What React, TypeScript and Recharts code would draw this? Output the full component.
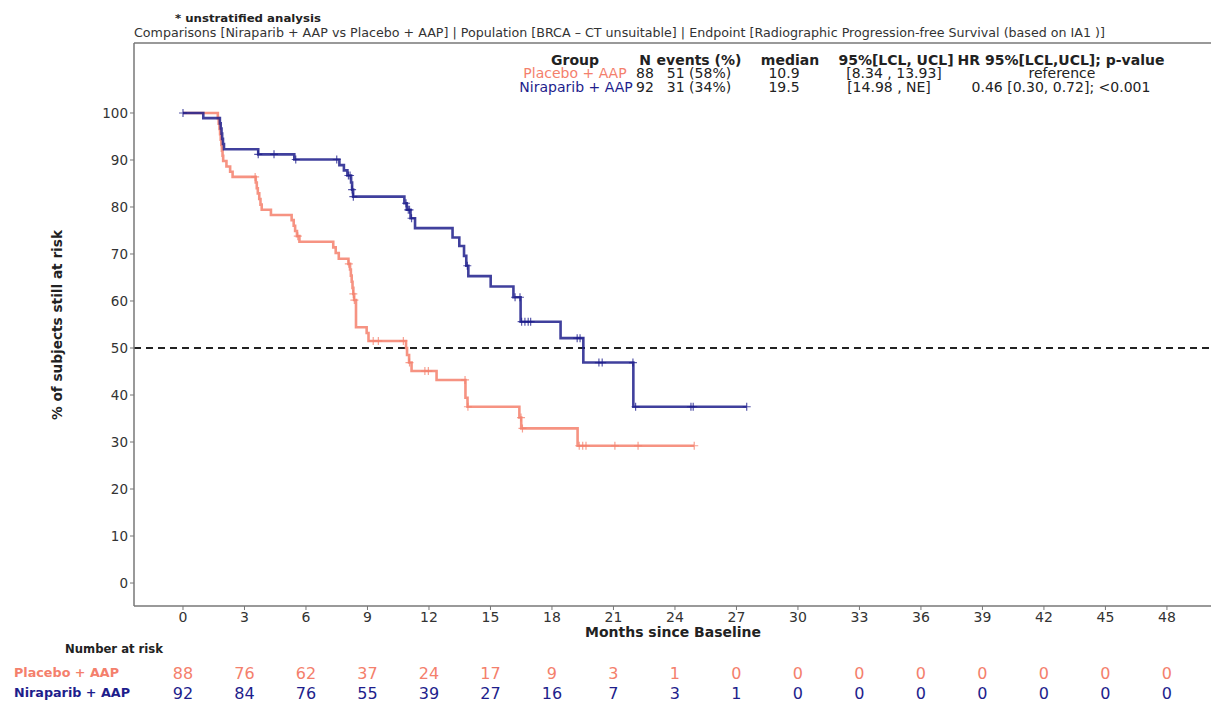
import React from "react";
import {
  ComposedChart,
  Line,
  ReferenceLine,
  Scatter,
  XAxis,
  YAxis,
} from "recharts";

// x ticks (months) and y ticks (%)
const months = [0, 3, 6, 9, 12, 15, 18, 21, 24, 27, 30, 33, 36, 39, 42, 45, 48];
const pctTicks = [0, 10, 20, 30, 40, 50, 60, 70, 80, 90, 100];

// Kaplan-Meier steps: event times and survival after each event
const placeboTimes = [
  0, 1.7, 1.74, 1.78, 1.81, 1.84, 1.87, 1.9, 1.93, 1.96, 2.12, 2.3, 2.42, 3.55, 3.6,
  3.65, 3.72, 3.78, 3.84, 4.29, 5.3, 5.4, 5.47, 5.56, 5.68, 7.33, 7.45, 7.6, 8.07,
  8.15, 8.19, 8.23, 8.27, 8.31, 8.35, 8.44, 8.96, 9.05, 10.88, 10.93, 11.03, 11.15,
  12.37, 13.78, 13.88, 16.41, 16.5, 19.25,
];
const placeboSurv = [
  100, 98.9, 97.7, 96.6, 95.5, 94.3, 93.2, 92.0, 90.9, 89.8, 88.6, 87.5, 86.4, 85.2,
  84.0, 82.9, 81.7, 80.5, 79.4, 78.3, 77.2, 76.0, 74.9, 73.8, 72.6, 71.4, 70.2, 69.0,
  67.9, 66.7, 65.4, 64.1, 62.8, 61.5, 60.2, 54.4, 53.2, 51.5, 50.0, 48.5, 46.9, 45.1,
  43.2, 39.4, 37.5, 35.2, 32.9, 29.2,
];
const placeboCensored = [
  3.52, 5.6, 8.09, 8.31, 8.36, 9.28, 9.53, 10.75, 11.05, 11.8, 11.97, 13.76, 13.9,
  16.49, 16.56, 19.33, 19.5, 19.66, 21.07, 22.2, 24.94,
];

const niraparibTimes = [
  0, 0.99, 1.8, 1.84, 1.88, 1.91, 1.95, 2.0, 3.67, 5.43, 7.63, 7.85, 8.02, 8.2, 8.25,
  8.3, 10.8, 10.92, 11.1, 11.32, 13.15, 13.48, 13.71, 13.82, 13.92, 15.01, 16.12,
  16.47, 18.42, 19.53, 21.97,
];
const niraparibSurv = [
  100, 98.9, 97.8, 96.7, 95.6, 94.5, 93.4, 92.3, 91.2, 90.1, 88.9, 87.8, 86.7, 85.2,
  83.7, 82.2, 80.8, 79.4, 77.6, 75.5, 73.5, 71.7, 69.6, 67.5, 65.3, 63.1, 60.8, 55.6,
  52.1, 46.9, 37.5,
];
const niraparibCensored = [
  0, 3.67, 4.44, 5.5, 7.5, 8.07, 8.15, 8.25, 8.31, 10.88, 10.99, 11.05, 11.15, 13.87,
  16.2, 16.44, 16.52, 16.68, 16.84, 16.96, 19.23, 19.37, 20.29, 20.45, 21.95, 22.08,
  24.78, 24.89, 27.5,
];

// number at risk at each x tick
const placeboAtRisk = [88, 76, 62, 37, 24, 17, 9, 3, 1, 0, 0, 0, 0, 0, 0, 0, 0];
const niraparibAtRisk = [92, 84, 76, 55, 39, 27, 16, 7, 3, 1, 0, 0, 0, 0, 0, 0, 0];

const X_DOMAIN: [number, number] = [-2.39, 50.15];
const Y_DOMAIN: [number, number] = [-4.89, 114.89];

const SALMON = "#F4806C";
const NAVY = "#1E1E8C";
const AXIS = "#777";

function survivalAt(times: number[], surv: number[], t: number) {
  let s = surv[0];
  for (let i = 0; i < times.length; i++) if (times[i] <= t) s = surv[i];
  return s;
}

function curve(times: number[], surv: number[], censored: number[]) {
  const pts = times.map((t, i) => ({ t, s: surv[i] }));
  const last = censored[censored.length - 1];
  if (last > times[times.length - 1]) pts.push({ t: last, s: surv[surv.length - 1] });
  return pts;
}

const censorPoints = (times: number[], surv: number[], censored: number[]) =>
  censored.map((t) => ({ t, s: survivalAt(times, surv, t) }));

const placeboLine = curve(placeboTimes, placeboSurv, placeboCensored);
const niraparibLine = curve(niraparibTimes, niraparibSurv, niraparibCensored);
const placeboMarks = censorPoints(placeboTimes, placeboSurv, placeboCensored);
const niraparibMarks = censorPoints(niraparibTimes, niraparibSurv, niraparibCensored);

const plus = (color: string) => (props: any) => {
  const { cx, cy } = props;
  return (
    <path
      d={`M${cx - 4},${cy}H${cx + 4}M${cx},${cy - 4}V${cy + 4}`}
      stroke={color}
      strokeOpacity={0.75}
      strokeWidth={1.2}
      fill="none"
    />
  );
};

const riskTick = (counts: number[], color: string, dy: number) => (props: any) => {
  const { x, y, payload } = props;
  const i = months.indexOf(payload.value);
  return (
    <text
      x={x}
      y={y + dy}
      textAnchor="middle"
      dominantBaseline="central"
      fill={color}
      fontSize={16}
    >
      {counts[i]}
    </text>
  );
};

const T = ({
  x,
  y,
  children,
  anchor = "middle",
  size = 14,
  bold = false,
  color = "#222",
  len,
}: {
  x: number;
  y: number;
  children: React.ReactNode;
  anchor?: "start" | "middle" | "end";
  size?: number;
  bold?: boolean;
  color?: string;
  len?: number;
}) => (
  <text
    x={x}
    y={y}
    textAnchor={anchor}
    fontSize={size}
    fontWeight={bold ? "bold" : "normal"}
    fill={color}
    textLength={len}
    lengthAdjust={len ? "spacingAndGlyphs" : undefined}
  >
    {children}
  </text>
);

export default function App() {
  return (
    <div
      style={{
        position: "absolute",
        left: 0,
        top: 0,
        width: 1211,
        height: 702,
        fontFamily: "'DejaVu Sans', sans-serif",
        background: "#fff",
      }}
    >
      <ComposedChart width={1211} height={702} margin={{ top: 43, right: 0, bottom: 0, left: 0 }}>
        <XAxis
          type="number"
          dataKey="t"
          domain={X_DOMAIN}
          ticks={months}
          interval={0}
          allowDataOverflow
          height={36}
          stroke={AXIS}
          axisLine={{ stroke: AXIS, strokeWidth: 1.5 }}
          tickSize={4}
          tickMargin={2}
          tick={{ fill: "#333", fontSize: 14 }}
        />
        <XAxis
          xAxisId="r1"
          type="number"
          dataKey="t"
          domain={X_DOMAIN}
          ticks={months}
          interval={0}
          allowDataOverflow
          height={40}
          axisLine={false}
          tickLine={false}
          tickSize={0}
          tickMargin={0}
          tick={riskTick(placeboAtRisk, SALMON, 31)}
        />
        <XAxis
          xAxisId="r2"
          type="number"
          dataKey="t"
          domain={X_DOMAIN}
          ticks={months}
          interval={0}
          allowDataOverflow
          height={20}
          axisLine={false}
          tickLine={false}
          tickSize={0}
          tickMargin={0}
          tick={riskTick(niraparibAtRisk, NAVY, 11)}
        />
        <YAxis
          type="number"
          dataKey="s"
          domain={Y_DOMAIN}
          ticks={pctTicks}
          interval={0}
          allowDataOverflow
          width={134}
          stroke={AXIS}
          axisLine={{ stroke: AXIS, strokeWidth: 1.5 }}
          tickSize={4}
          tickMargin={2}
          tick={{ fill: "#333", fontSize: 13.5 }}
        />
        <ReferenceLine y={Y_DOMAIN[1]} stroke={AXIS} strokeWidth={1.5} />
        <ReferenceLine y={50} stroke="#222" strokeWidth={2} strokeDasharray="7 5" />
        <Line
          data={placeboLine}
          dataKey="s"
          type="stepAfter"
          stroke={SALMON}
          strokeWidth={2.6}
          strokeOpacity={0.85}
          dot={false}
          activeDot={false}
          isAnimationActive={false}
        />
        <Line
          data={niraparibLine}
          dataKey="s"
          type="stepAfter"
          stroke={NAVY}
          strokeWidth={2.6}
          strokeOpacity={0.85}
          dot={false}
          activeDot={false}
          isAnimationActive={false}
        />
        <Scatter data={placeboMarks} dataKey="s" shape={plus(SALMON)} isAnimationActive={false} />
        <Scatter data={niraparibMarks} dataKey="s" shape={plus(NAVY)} isAnimationActive={false} />
      </ComposedChart>

      <svg
        width={1211}
        height={702}
        style={{ position: "absolute", left: 0, top: 0, pointerEvents: "none" }}
      >
        <T x={175} y={22} anchor="start" size={11} bold len={146}>
          * unstratified analysis
        </T>
        <T x={134} y={37} anchor="start" size={12.5} color="#333" len={971}>
          Comparisons [Niraparib + AAP vs Placebo + AAP] | Population [BRCA – CT unsuitable] | Endpoint [Radiographic Progression-free Survival (based on IA1 )]
        </T>

        {/* summary table */}
        <T x={575} y={65} bold>Group</T>
        <T x={645} y={65} bold>N</T>
        <T x={699} y={65} bold>events (%)</T>
        <T x={790} y={65} bold>median</T>
        <T x={896} y={65} bold>95%[LCL, UCL]</T>
        <T x={1061} y={65} bold>HR 95%[LCL,UCL]; p-value</T>

        <T x={575} y={78} color={SALMON}>Placebo + AAP</T>
        <T x={645} y={78}>88</T>
        <T x={699} y={78}>51 (58%)</T>
        <T x={784} y={78}>10.9</T>
        <T x={894} y={78}>[8.34 , 13.93]</T>
        <T x={1062} y={78}>reference</T>

        <T x={576} y={92} color={NAVY}>Niraparib + AAP</T>
        <T x={645} y={92}>92</T>
        <T x={699} y={92}>31 (34%)</T>
        <T x={784} y={92}>19.5</T>
        <T x={889} y={92}>[14.98 , NE]</T>
        <T x={1061} y={92}>0.46 [0.30, 0.72]; &lt;0.001</T>

        <T x={673} y={637} bold size={14} len={176}>Months since Baseline</T>
        <g transform="translate(62,325) rotate(-90)">
          <T x={0} y={0} bold size={14} len={190}>% of subjects still at risk</T>
        </g>

        {/* risk table labels */}
        <T x={65} y={653} anchor="start" bold size={12} len={98}>Number at risk</T>
        <T x={14} y={677} anchor="start" bold size={12} color={SALMON} len={105}>Placebo + AAP</T>
        <T x={14} y={697} anchor="start" bold size={12} color={NAVY} len={116}>Niraparib + AAP</T>
      </svg>
    </div>
  );
}
